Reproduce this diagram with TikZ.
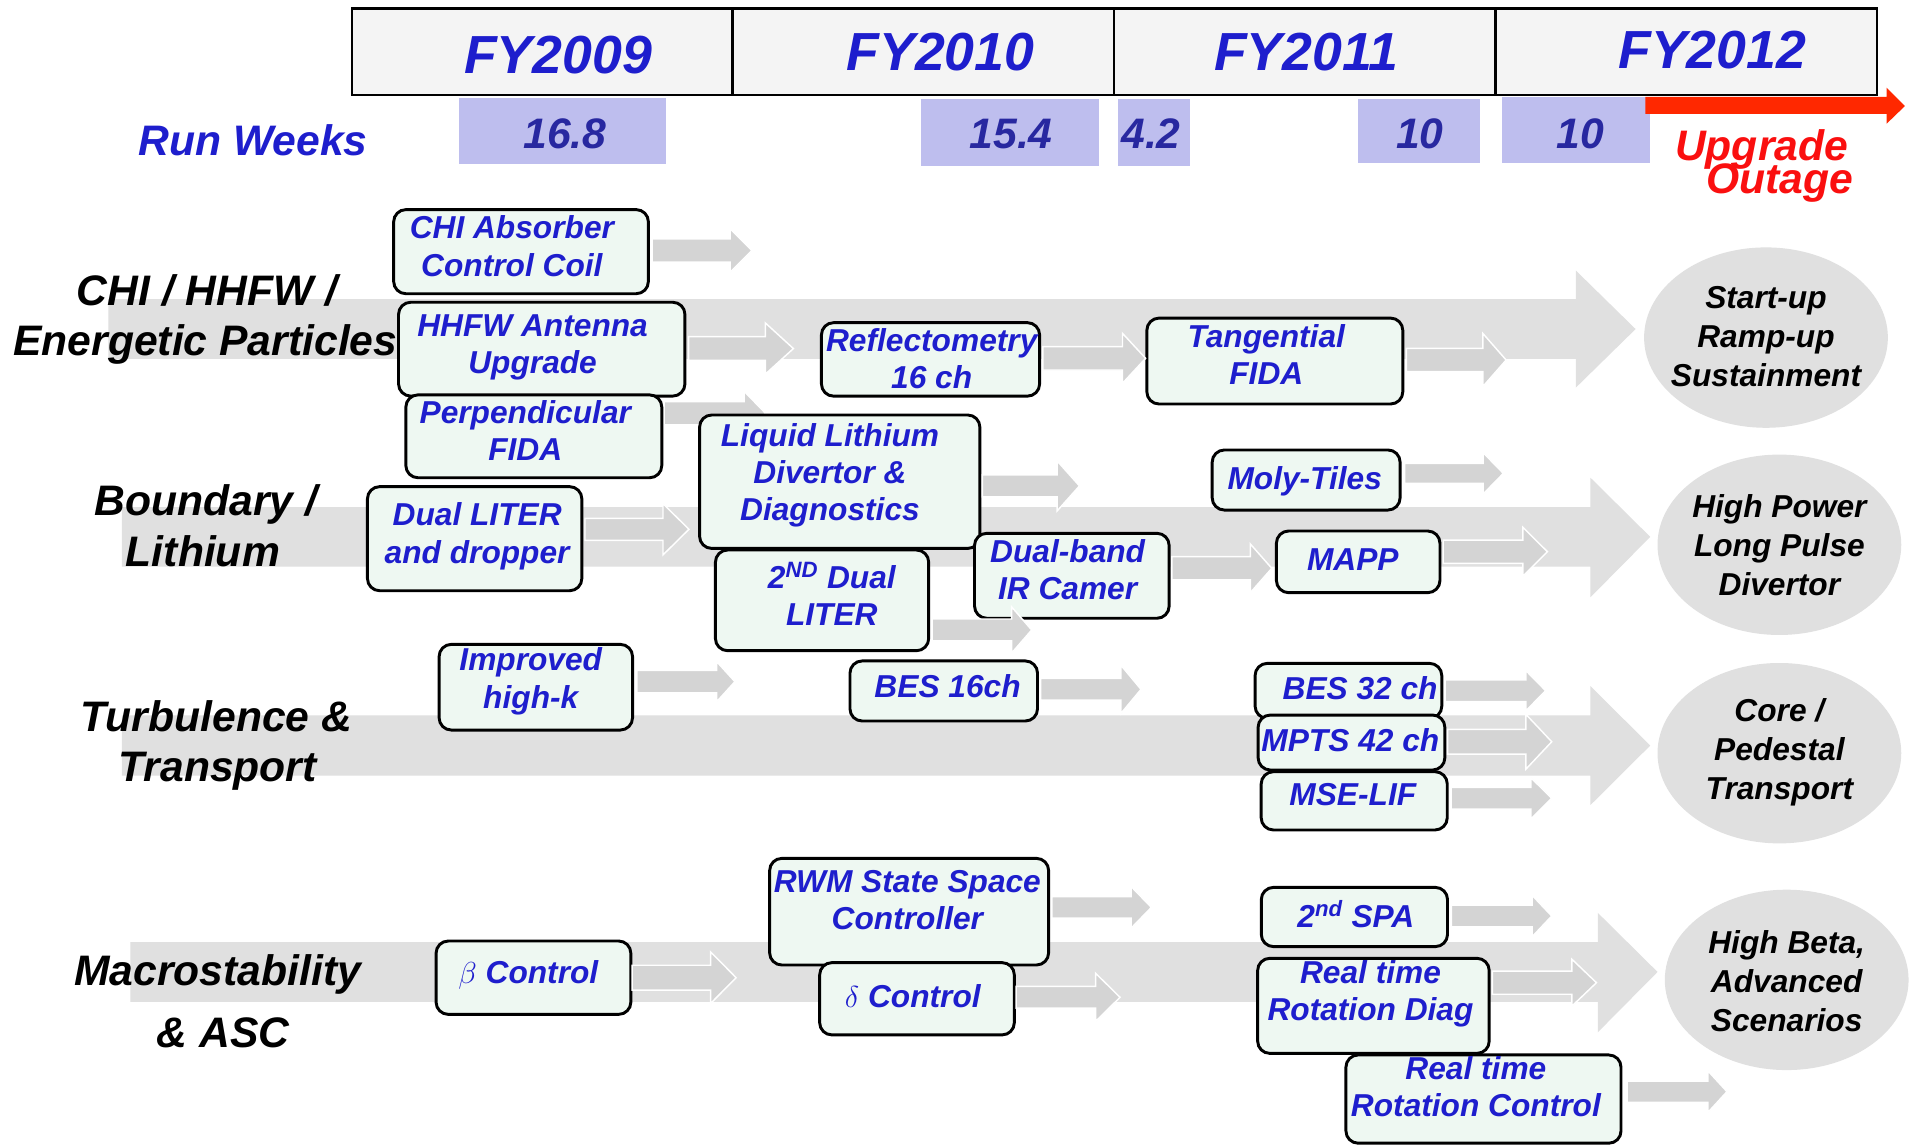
\documentclass[tikz,border=0pt]{standalone}
\usepackage{fontspec}
\setmainfont{Liberation Sans}
\usetikzlibrary{shapes.geometric}
\definecolor{fyblue}{RGB}{30,30,205}
\definecolor{numblue}{RGB}{40,40,160}
\definecolor{wkfill}{RGB}{190,190,238}
\definecolor{hdrfill}{RGB}{244,244,244}
\definecolor{bandgray}{RGB}{224,224,224}
\definecolor{arrgray}{RGB}{212,212,212}
\definecolor{boxfill}{RGB}{238,248,242}
\definecolor{upred}{RGB}{255,40,0}
\definecolor{txtred}{RGB}{250,15,15}
\newcommand\fs[2]{\fontsize{#1}{#2}\selectfont\bfseries\itshape}
% box with separately placed text: name, cx, cy, w, h, tx, ty, text
\newcommand\bx[8]{\node[box, minimum width=#4pt, minimum height=#5pt] (#1) at (#2,#3) {};
  \node[btxt] (#1t) at (#6,#7-2) {#8};}
% small block arrow: x0, xbase, xtip, ycenter, shaft half, head half
\newcommand\sarr[6]{\path[sarrow] (#1,#4-#5) -- (#2,#4-#5) -- (#2,#4-#6) -- (#3,#4) -- (#2,#4+#6) -- (#2,#4+#5) -- (#1,#4+#5) -- cycle;}
% big band arrow: x0, ytop, ybot, xbase, headtop, headbot, xtip, ycenter
\newcommand\band[8]{\fill[bandgray] (#1,#2) -- (#4,#2) -- (#4,#5) -- (#7,#8) -- (#4,#6) -- (#4,#3) -- (#1,#3) -- cycle;}
\begin{document}
\begin{tikzpicture}[x=1pt,y=-1pt,
  cell/.style={draw=black, line width=1.8pt, fill=hdrfill, minimum height=71pt, inner sep=0pt},
  fy/.style={text=fyblue, font={\fs{44}{50}}, anchor=base, inner sep=0pt},
  wk/.style={fill=wkfill, inner sep=0pt},
  wknum/.style={text=numblue, font={\fs{35}{40}}, anchor=base, inner sep=0pt},
  cat/.style={text=black, font={\fs{35}{40}}, anchor=base, inner sep=0pt},
  box/.style={draw=black, line width=2.4pt, rounded corners=10pt, fill=boxfill, inner sep=0pt},
  btxt/.style={text=fyblue, font={\fs{26}{30.5}}, align=center, inner sep=0pt},
  goal/.style={ellipse, fill=bandgray, minimum width=200pt, minimum height=148pt, inner sep=0pt},
  gtxt/.style={text=black, font={\fs{26}{32}}, align=center, inner sep=0pt},
  sarrow/.style={fill=arrgray, draw=white, line width=1.2pt}]
\useasboundingbox (0,0) rectangle (1568,939);
\fill[white] (0,0) rectangle (1568,939);

% header
\node[cell, minimum width=312pt] (c09) at (445,42.5) {};
\node[cell, minimum width=313pt] (c10) at (757.5,42.5) {};
\node[cell, minimum width=313pt] (c11) at (1070.5,42.5) {};
\node[cell, minimum width=313pt] (c12) at (1383.5,42.5) {};
\node[fy] (fy09) at (457.8,60) {FY2009};
\node[fy] (fy10) at (771.7,58) {FY2010};
\node[fy] (fy11) at (1071.7,58) {FY2011};
\node[fy] (fy12) at (1404.9,56) {FY2012};

% run weeks
\node[text=fyblue, font={\fs{35}{40}}, anchor=base, inner sep=0pt] (rw) at (207.5,127.2) {Run Weeks};
\node[wk, minimum width=169.8pt, minimum height=54.5pt] (w09) at (461.8,107.4) {};
\node[wk, minimum width=146.3pt, minimum height=54.7pt] (w10) at (828.45,108.55) {};
\node[wk, minimum width=59.3pt, minimum height=54.7pt] (w11a) at (946.85,108.55) {};
\node[wk, minimum width=100pt, minimum height=52.3pt] (w11b) at (1164.2,107.35) {};
\node[wk, minimum width=121.7pt, minimum height=54.2pt] (w12) at (1293.15,106.4) {};
\node[wknum] (n09) at (463.6,121.7) {16.8};
\node[wknum] (n10) at (829.7,121.7) {15.4};
\node[wknum] (n11a) at (944.4,121.7) {4.2};
\node[wknum] (n11b) at (1165,121.7) {10};
\node[wknum] (n12) at (1296.4,121.7) {10};

% upgrade outage
\fill[upred] (1350,79.5) -- (1548,79.5) -- (1548,72) -- (1563,87) -- (1548,101.5) -- (1548,93.5) -- (1350,93.5) -- cycle;
\node[text=txtred, font={\fs{35}{40}}, anchor=base, inner sep=0pt] (up) at (1445.4,131.3) {Upgrade};
\node[text=txtred, font={\fs{35}{40}}, anchor=base, inner sep=0pt] (out) at (1460.4,158.6) {Outage};

% bands
\band{89}{245.5}{294.5}{1293}{222}{318}{1342}{270}
\band{100}{416}{465}{1305}{392}{490}{1354}{440.5}
\band{100}{587}{636.5}{1305}{563}{660.5}{1354}{611.75}
\band{107}{773}{822}{1311}{749}{847}{1360}{797.5}

% goals
\node[goal] (g1) at (1449,277) {};
\node[gtxt] (g1t) at (1449,276) {Start-up\\Ramp-up\\Sustainment};
\node[goal] (g2) at (1460,447) {};
\node[gtxt] (g2t) at (1460,447) {High Power\\Long Pulse\\Divertor};
\node[goal] (g3) at (1460,618) {};
\node[gtxt] (g3t) at (1460,617) {Core /\\Pedestal\\Transport};
\node[goal] (g4) at (1466,804) {};
\node[gtxt] (g4t) at (1466,805) {High Beta,\\Advanced\\Scenarios};

% category labels
\node[cat] (l1a) at (170,250.5) {CHI / HHFW /};
\node[cat] (l1b) at (168.5,291.3) {Energetic Particles};
\node[cat] (l2a) at (169,422.6) {Boundary /};
\node[cat] (l2b) at (166.5,465) {Lithium};
\node[cat] (l3a) at (177.5,599.8) {Turbulence \&};
\node[cat] (l3b) at (178.5,641.4) {Transport};
\node[cat] (l4a) at (178.5,808.2) {Macrostability};
\node[cat] (l4b) at (183,859.4) {\& ASC};

% arrow behind Liquid Lithium box
\sarr{545}{610.5}{628}{339}{9.5}{18}

% boxes
\bx{chi}{427.5}{206.5}{209}{69}{420}{204}{CHI Absorber\\Control Coil}
\bx{hhfw}{444.5}{286.5}{235}{77}{437}{287}{HHFW Antenna\\Upgrade}
\bx{pfida}{438}{358}{210}{68}{431}{355.5}{Perpendicular\\FIDA}
\bx{refl}{763.5}{294.9}{179}{60.3}{764.5}{296.5}{Reflectometry\\16 ch}
\bx{tfida}{1046}{296.25}{210}{70.5}{1039}{293}{Tangential\\FIDA}
\bx{lld}{689}{395.25}{230}{109.5}{681}{392}{Liquid Lithium\\Divertor \&\\Diagnostics}
\bx{moly}{1071.7}{393.85}{154.2}{49.3}{1070.5}{397}{Moly-Tiles}
\bx{dliter}{389.45}{442}{175.9}{85.4}{391.5}{442}{Dual LITER\\and dropper}
\bx{dliterb}{674.5}{492.6}{175}{82.6}{682.5}{489}{2\textsuperscript{ND} Dual\\LITER}
\bx{irc}{879.45}{472.45}{159.7}{69.7}{876}{469.6}{Dual-band\\IR Camer}
\bx{mapp}{1114.4}{461}{134.2}{50.6}{1110}{461.5}{MAPP}
\bx{hik}{439.65}{563.85}{158.7}{70.3}{435.5}{561}{Improved\\high-k}
\bx{besa}{774.35}{566.95}{153.9}{49.3}{777.5}{565.4}{BES 16ch}
\bx{besb}{1106.4}{566.85}{153.2}{45.1}{1116}{566.8}{BES 32 ch}
\bx{mpts}{1108.9}{609.25}{153.2}{45.1}{1108}{609.2}{MPTS 42 ch}
\bx{mse}{1111.15}{657.1}{152.7}{47.8}{1110}{654.3}{MSE-LIF}
\bx{beta}{437.7}{802.2}{159.8}{60.2}{433.5}{802}{$\beta$ Control}
\bx{rwm}{745.95}{748.05}{228.9}{87.5}{744.5}{740.5}{RWM State Space\\Controller}
\bx{delta}{752.4}{819.5}{159.7}{59.3}{749}{819.2}{$\delta$ Control}
\bx{spa}{1111.3}{752.4}{152.8}{48.6}{1112.5}{752}{2\textsuperscript{nd} SPA}
\bx{rtd}{1126.9}{825.3}{190}{78}{1124.5}{817.3}{Real time\\Rotation Diag}
\bx{rtc}{1217.2}{901.8}{225.7}{72.4}{1211}{893.7}{Real time\\Rotation Control}

% small arrows
\sarr{535}{599}{617}{205.5}{9.5}{18}
\sarr{565}{628}{651}{286}{9.75}{21}
\sarr{855.6}{921}{940}{294}{9.6}{20.5}
\sarr{1154}{1216.7}{1235.8}{295.4}{9.6}{21.8}
\sarr{480}{544}{565.3}{434.3}{9}{21}
\sarr{806}{867.4}{885.7}{398.7}{9}{20.5}
\sarr{1152.5}{1216.9}{1233.5}{388.4}{8.2}{17}
\sarr{961.5}{1025.9}{1043.5}{466.3}{9.5}{20}
\sarr{1184.2}{1249.6}{1269.7}{452.7}{9.5}{20}
\sarr{764.8}{830}{846.5}{516.9}{9}{19}
\sarr{522.6}{588}{603}{559.3}{9.2}{16.5}
\sarr{853.8}{919.7}{936.2}{565.6}{8.9}{19.8}
\sarr{1185.7}{1252}{1268.2}{566.7}{8.9}{16.5}
\sarr{1187.7}{1252}{1273.2}{608.6}{10.2}{22.5}
\sarr{1190.7}{1256}{1273.2}{655}{8.9}{17}
\sarr{518.6}{583}{604}{802.2}{10.2}{21.2}
\sarr{863}{928.2}{944.7}{744.5}{8.9}{17}
\sarr{833.7}{898.9}{919}{818.3}{8.9}{19.8}
\sarr{1190.8}{1257.1}{1273.2}{751.6}{8.9}{17}
\sarr{1224.5}{1289.8}{1309.9}{806.3}{9.5}{19.2}
\sarr{1335}{1401.4}{1417}{895.7}{8.7}{17}
\end{tikzpicture}
\end{document}
